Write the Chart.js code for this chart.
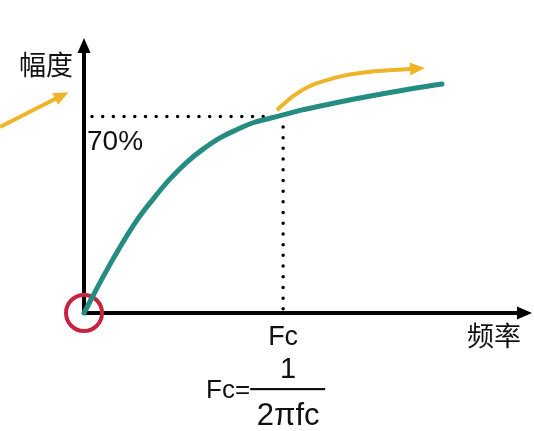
<!DOCTYPE html>
<html>
<head>
<meta charset="utf-8">
<script src="https://cdn.jsdelivr.net/npm/chart.js@4/dist/chart.umd.min.js"></script>
<style>
  html, body { margin: 0; padding: 0; background: #fff; }
  #wrap { width: 534px; height: 431px; position: relative; }
</style>
</head>
<body>
<div id="wrap"><canvas id="chart"></canvas></div>
<script>
// x in units of Fc, y in % of amplitude
const curveX = [0, 0.095, 0.181, 0.266, 0.347, 0.432, 0.517, 0.598, 0.683, 0.769, 0.849, 0.934, 1.0, 1.085, 1.236, 1.386, 1.637, 1.798];
const curveY = [0, 12.8, 23.5, 33.1, 40.6, 47.8, 53.8, 58.4, 62.4, 65.4, 67.8, 69.4, 70.6, 72.2, 74.5, 76.6, 79.8, 81.6];

const fcValue = 1;
const levelValue = 70;

const xTickValues = [fcValue];
const xTickLabels = ["Fc"];
const yTickValues = [levelValue];
const yTickLabels = ["70%"];

const xTitle = "频率";
const yTitle = "幅度";

// yellow arrows (drawn to the base of the head, head added by the plugin)
const leftArrowX = [-0.422, -0.136];
const leftArrowY = [66.3, 76.6];
const rightArrowX = [0.969, 1.050, 1.135, 1.221, 1.301, 1.386, 1.472, 1.552, 1.647];
const rightArrowY = [72.3, 77.3, 80.9, 83.0, 84.5, 85.5, 86.2, 86.6, 87.0];

const FONT = '"Liberation Sans", "Noto Sans CJK SC", sans-serif';
const TEAL = "rgb(36,140,128)";
const YELLOW = "rgb(240,180,40)";
const RED = "rgb(200,36,66)";

function toPoints(xs, ys)
{
    return xs.map((x, i) => ({ x, y: ys[i] }));
}

function head(ctx, fromX, fromY, tipX, tipY, len, half, color)
{
    const a = Math.atan2(tipY - fromY, tipX - fromX);
    ctx.save();
    ctx.fillStyle = color;
    ctx.beginPath();
    ctx.moveTo(tipX, tipY);
    ctx.lineTo(tipX - len * Math.cos(a) + half * Math.sin(a), tipY - len * Math.sin(a) - half * Math.cos(a));
    ctx.lineTo(tipX - len * Math.cos(a) - half * Math.sin(a), tipY - len * Math.sin(a) + half * Math.cos(a));
    ctx.closePath();
    ctx.fill();
    ctx.restore();
}

const decor = {
    id: "decor",
    beforeDatasetsDraw(chart)
    {
        const ctx = chart.ctx;
        const x = chart.scales.x, y = chart.scales.y;
        const ox = x.getPixelForValue(0), oy = y.getPixelForValue(0);
        const area = chart.chartArea;
        ctx.save();
        ctx.strokeStyle = "#000";
        ctx.lineWidth = 4;
        ctx.beginPath();
        ctx.moveTo(ox, oy + 2);
        ctx.lineTo(ox, area.top + 12);
        ctx.moveTo(ox - 2, oy);
        ctx.lineTo(area.right - 12, oy);
        ctx.stroke();
        ctx.restore();
        head(ctx, ox, oy, ox, area.top, 15, 6.5, "#000");
        head(ctx, ox, oy, area.right, oy, 15, 6.5, "#000");
    },
    afterDatasetsDraw(chart)
    {
        const ctx = chart.ctx;
        const x = chart.scales.x, y = chart.scales.y;
        const ox = x.getPixelForValue(0), oy = y.getPixelForValue(0);
        const area = chart.chartArea;

        // heads of the yellow arrows
        [2, 3].forEach(i => {
            const pts = chart.getDatasetMeta(i).data;
            const p = pts[pts.length - 1], q = pts[pts.length - 2];
            const a = Math.atan2(p.y - q.y, p.x - q.x);
            head(ctx, q.x, q.y, p.x + 13 * Math.cos(a), p.y + 13 * Math.sin(a), 15, 6.5, YELLOW);
        });

        ctx.save();
        ctx.fillStyle = "#111";
        ctx.textBaseline = "alphabetic";

        ctx.font = "27px " + FONT;
        ctx.textAlign = "center";
        xTickValues.forEach((v, i) => ctx.fillText(xTickLabels[i], x.getPixelForValue(v), oy + 32));
        ctx.font = "28px " + FONT;
        ctx.textAlign = "left";
        yTickValues.forEach((v, i) => ctx.fillText(yTickLabels[i], ox + 3, y.getPixelForValue(v) + 33));

        ctx.font = "27px " + FONT;
        ctx.textAlign = "right";
        ctx.fillText(yTitle, ox - 11, area.top + 37);
        ctx.fillText(xTitle, area.right - 11, oy + 33);

        // Fc = 1 / (2πfc)
        const fx = x.getPixelForValue(fcValue);
        ctx.font = "26px " + FONT;
        ctx.fillText("Fc=", fx - 33, oy + 85);
        ctx.textAlign = "center";
        ctx.font = "29px " + FONT;
        ctx.fillText("1", fx + 5, oy + 65);
        ctx.font = "31px " + FONT;
        ctx.fillText("2πfc", fx + 5, oy + 112);
        ctx.fillRect(fx - 33, oy + 75, 75, 2.2);
        ctx.restore();
    }
};

const dotted = {
    borderColor: "#000",
    borderWidth: 3.5,
    borderDash: [0, 10.7],
    borderCapStyle: "round",
    pointRadius: 0,
    clip: false
};

new Chart(document.getElementById("chart"), {
    type: "line",
    data: {
        datasets: [
            {
                data: toPoints(curveX, curveY),
                borderColor: TEAL,
                borderWidth: 5,
                pointRadius: 0,
                tension: 0.4,
                borderCapStyle: "round",
                clip: false
            },
            Object.assign({ data: [{ x: 0.04, y: levelValue }, { x: 0.95, y: levelValue }] }, dotted),
            {
                data: toPoints(leftArrowX, leftArrowY),
                borderColor: YELLOW,
                borderWidth: 4,
                pointRadius: 0,
                clip: false
            },
            {
                data: toPoints(rightArrowX, rightArrowY),
                borderColor: YELLOW,
                borderWidth: 4,
                pointRadius: 0,
                tension: 0.4,
                clip: false
            },
            Object.assign({ data: [{ x: fcValue, y: 66.3 }, { x: fcValue, y: 0.5 }] }, dotted),
            {
                data: [{ x: 0, y: 0 }],
                showLine: false,
                pointRadius: 18,
                pointHoverRadius: 18,
                pointBorderWidth: 4,
                pointBorderColor: RED,
                pointBackgroundColor: "rgba(0,0,0,0)",
                clip: false
            }
        ]
    },
    options: {
        responsive: true,
        maintainAspectRatio: false,
        animation: false,
        events: [],
        layout: { autoPadding: false, padding: { left: 0, right: 2, top: 38, bottom: 118 } },
        scales: {
            x: { type: "linear", min: -0.422, max: 2.25, display: false },
            y: { type: "linear", min: 0, max: 98, display: false }
        },
        plugins: {
            legend: { display: false },
            tooltip: { enabled: false }
        }
    },
    plugins: [decor]
});
</script>
</body>
</html>
